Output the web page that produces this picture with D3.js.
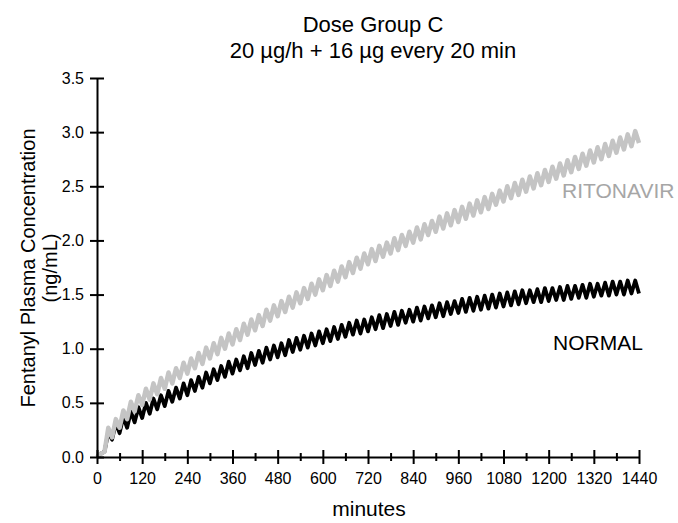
<!DOCTYPE html>
<html>
<head>
<meta charset="utf-8">
<script src="https://cdn.jsdelivr.net/npm/d3@7"></script>
<style>
  html, body { margin: 0; padding: 0; background: #fff; }
  svg { display: block; font-family: "Liberation Sans", Arial, sans-serif; }
</style>
</head>
<body>
<svg id="chart" width="678" height="523"></svg>
<script>
// Simulated fentanyl plasma concentration (ng/mL), sampled every 10 min.
// Troughs fall on the 20-minute dosing times (0, 20, ..., 1440),
// peaks midway between them (10, 30, ..., 1430).
const troughTimes = d3.range(0, 1441, 20);
const peakTimes = d3.range(10, 1431, 20);

const normalTroughs = [
  0.00, 0.05, 0.16, 0.22, 0.27, 0.32, 0.36, 0.40, 0.44, 0.47, 0.51, 0.54, 0.57,
  0.61, 0.64, 0.68, 0.71, 0.74, 0.77, 0.80, 0.82, 0.85, 0.87, 0.90, 0.92, 0.94,
  0.97, 0.99, 1.01, 1.03, 1.05, 1.07, 1.09, 1.11, 1.13, 1.14, 1.16, 1.18, 1.19,
  1.21, 1.22, 1.24, 1.25, 1.26, 1.28, 1.29, 1.30, 1.32, 1.33, 1.34, 1.35, 1.36,
  1.37, 1.38, 1.39, 1.40, 1.41, 1.42, 1.43, 1.43, 1.44, 1.45, 1.45, 1.46, 1.47,
  1.47, 1.48, 1.49, 1.49, 1.50, 1.50, 1.51, 1.51
];
const normalPeaks = [
  0.03, 0.23, 0.31, 0.37, 0.42, 0.46, 0.50, 0.54, 0.57, 0.61, 0.64, 0.68, 0.71,
  0.74, 0.78, 0.81, 0.84, 0.88, 0.90, 0.93, 0.96, 0.98, 1.01, 1.03, 1.05, 1.08,
  1.10, 1.12, 1.14, 1.16, 1.18, 1.20, 1.22, 1.24, 1.26, 1.27, 1.29, 1.31, 1.32,
  1.34, 1.35, 1.36, 1.38, 1.39, 1.40, 1.42, 1.43, 1.44, 1.46, 1.47, 1.48, 1.49,
  1.50, 1.51, 1.52, 1.53, 1.54, 1.54, 1.55, 1.56, 1.56, 1.57, 1.58, 1.58, 1.59,
  1.60, 1.60, 1.61, 1.62, 1.62, 1.63, 1.63
];
const ritonavirTroughs = [
  0.00, 0.05, 0.18, 0.27, 0.35, 0.42, 0.48, 0.53, 0.58, 0.63, 0.68, 0.73, 0.77,
  0.82, 0.86, 0.91, 0.95, 1.00, 1.04, 1.08, 1.13, 1.17, 1.21, 1.26, 1.30, 1.34,
  1.38, 1.42, 1.46, 1.50, 1.54, 1.58, 1.62, 1.66, 1.70, 1.74, 1.78, 1.81, 1.85,
  1.88, 1.91, 1.95, 1.98, 2.01, 2.05, 2.08, 2.11, 2.14, 2.17, 2.20, 2.23, 2.26,
  2.29, 2.33, 2.36, 2.39, 2.42, 2.45, 2.48, 2.51, 2.54, 2.57, 2.60, 2.63, 2.66,
  2.69, 2.72, 2.75, 2.78, 2.81, 2.84, 2.87, 2.90
];
const ritonavirPeaks = [
  0.03, 0.27, 0.35, 0.43, 0.51, 0.57, 0.63, 0.68, 0.73, 0.78, 0.82, 0.87, 0.91,
  0.96, 1.01, 1.05, 1.10, 1.14, 1.18, 1.23, 1.27, 1.31, 1.36, 1.40, 1.44, 1.48,
  1.52, 1.56, 1.60, 1.64, 1.68, 1.72, 1.76, 1.80, 1.84, 1.88, 1.92, 1.95, 1.98,
  2.02, 2.05, 2.08, 2.12, 2.15, 2.18, 2.22, 2.25, 2.28, 2.31, 2.34, 2.37, 2.40,
  2.43, 2.46, 2.50, 2.53, 2.56, 2.59, 2.62, 2.65, 2.68, 2.71, 2.74, 2.77, 2.80,
  2.83, 2.86, 2.89, 2.92, 2.95, 2.98, 3.01
];

const xMajorTicks = [0, 120, 240, 360, 480, 600, 720, 840, 960, 1080, 1200, 1320, 1440];
const xMinorTicks = [60, 180, 300, 420, 540, 660, 780, 900, 1020, 1140, 1260, 1380];
const yTicks = [0, 0.5, 1.0, 1.5, 2.0, 2.5, 3.0, 3.5];

const titleLines = ["Dose Group C", "20 \u00b5g/h + 16 \u00b5g every 20 min"];
const yLabelLines = ["Fentanyl Plasma Concentration", "(ng/mL)"];
const xLabel = "minutes";

// Interleave troughs and peaks into one time-ordered series.
function buildSeries(troughs, peaks) {
  const pts = [];
  troughs.forEach((v, i) => {
    pts.push([troughTimes[i], v]);
    if (i < peaks.length) pts.push([peakTimes[i], peaks[i]]);
  });
  return pts;
}

const series = [
  { name: "NORMAL", points: buildSeries(normalTroughs, normalPeaks), color: "#000000", width: 3.8,
    label: { x: 553, y: 350, fill: "#000000" } },
  { name: "RITONAVIR", points: buildSeries(ritonavirTroughs, ritonavirPeaks), color: "#c4c4c4", width: 4.5,
    label: { x: 562, y: 198, fill: "#a6a6a6" } }
];

const svg = d3.select("#chart");
const x = d3.scaleLinear().domain([0, 1440]).range([97, 639]);
const y = d3.scaleLinear().domain([0, 3.5]).range([457, 78]);

// Lines
const line = d3.line().x(d => x(d[0])).y(d => y(d[1]));
svg.append("g").selectAll("path")
  .data(series)
  .join("path")
  .attr("fill", "none")
  .attr("stroke", d => d.color)
  .attr("stroke-width", d => d.width)
  .attr("stroke-linejoin", "round")
  .attr("d", d => line(d.points));

// Y axis with ticks crossing the spine
const yAxis = svg.append("g")
  .attr("transform", `translate(${x(0)},0)`)
  .call(d3.axisLeft(y).tickValues(yTicks).tickFormat(d3.format(".1f")).tickSize(7).tickSizeOuter(0).tickPadding(6));
yAxis.selectAll(".tick line").attr("x1", 7).attr("stroke-width", 2);
yAxis.select(".domain").attr("stroke-width", 2);
yAxis.selectAll(".tick text").attr("font-size", 16).attr("fill", "#000")
  .attr("font-family", "Liberation Sans, Arial, sans-serif");

// X axis: labelled major ticks and shorter minor ticks
const xAxis = svg.append("g")
  .attr("transform", `translate(0,${y(0)})`)
  .call(d3.axisBottom(x).tickValues(xMajorTicks).tickFormat(d3.format("d")).tickSize(7).tickSizeOuter(0).tickPadding(9));
xAxis.selectAll(".tick line").attr("y1", -7).attr("stroke-width", 2);
xAxis.select(".domain").attr("stroke-width", 2);
xAxis.selectAll(".tick text").attr("font-size", 16).attr("fill", "#000")
  .attr("font-family", "Liberation Sans, Arial, sans-serif");

const xMinor = svg.append("g")
  .attr("transform", `translate(0,${y(0)})`)
  .call(d3.axisBottom(x).tickValues(xMinorTicks).tickFormat("").tickSize(4).tickSizeOuter(0));
xMinor.select(".domain").remove();
xMinor.selectAll(".tick line").attr("y1", -4).attr("stroke-width", 2);

// Titles
svg.append("g").selectAll("text")
  .data(titleLines)
  .join("text")
  .attr("x", 373)
  .attr("y", (d, i) => 32 + i * 26)
  .attr("text-anchor", "middle")
  .attr("font-size", 22)
  .text(d => d);

// Axis labels
svg.append("g").selectAll("text")
  .data(yLabelLines)
  .join("text")
  .attr("transform", (d, i) => `translate(${35 + i * 22},${268}) rotate(-90)`)
  .attr("text-anchor", "middle")
  .attr("font-size", 20)
  .text(d => d);

svg.append("text")
  .attr("x", 369)
  .attr("y", 516)
  .attr("text-anchor", "middle")
  .attr("font-size", 21)
  .text(xLabel);

// Series labels
svg.append("g").selectAll("text")
  .data(series)
  .join("text")
  .attr("x", d => d.label.x)
  .attr("y", d => d.label.y)
  .attr("font-size", 21)
  .attr("fill", d => d.label.fill)
  .text(d => d.name);
</script>
</body>
</html>
